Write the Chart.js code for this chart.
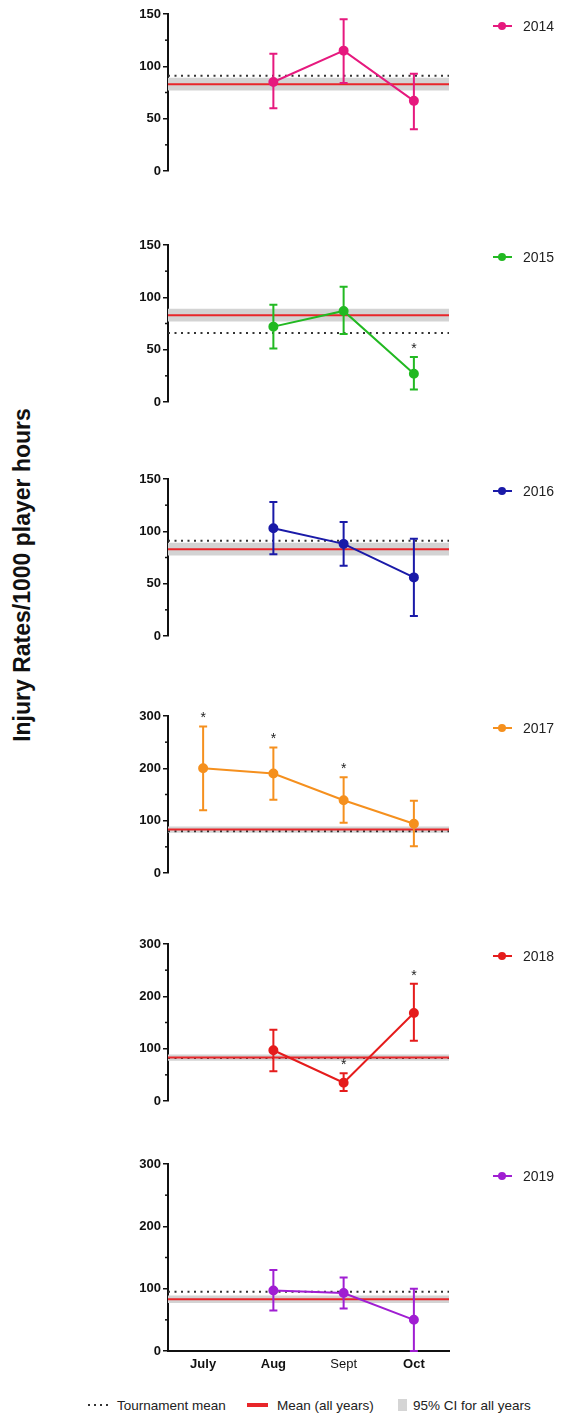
<!DOCTYPE html>
<html><head><meta charset="utf-8">
<style>
body{margin:0;background:#fff;width:561px;height:1417px;position:relative;overflow:hidden;font-family:"Liberation Sans",Arial,sans-serif}
canvas.p{position:absolute;left:0}
.ytitle{position:absolute;left:22px;top:575px;transform:translate(-50%,-50%) rotate(-90deg);font-weight:bold;font-size:23px;white-space:nowrap;color:#111}
.lg{position:absolute;left:493px;height:16px;display:flex;align-items:center;font-size:14px;color:#222}
.lg .ln{position:relative;width:19px;height:2px;margin-right:11px}
.lg .dt{position:absolute;left:5px;top:-3.5px;width:8px;height:8px;border-radius:50%}
.bl{position:absolute;top:1396px;height:18px;display:flex;align-items:center;font-size:13.5px;color:#222}
.dots{display:inline-block;width:24px;height:2px;margin-right:5px;background:repeating-linear-gradient(90deg,#333 0 2px,transparent 2px 6px)}
</style>
<script src="https://cdn.jsdelivr.net/npm/chart.js@4"></script>
</head><body>
<div class="ytitle">Injury Rates/1000 player hours</div>
<script>
// ---- data ----
const months = ['July', 'Aug', 'Sept', 'Oct'];
const years = ['2014', '2015', '2016', '2017', '2018', '2019'];
const yearColors = ['#e6197e', '#22b922', '#1a1aa8', '#f5901e', '#e51c1c', '#a01ed2'];

const rate2014 = [null, 85, 115, 67];
const low2014  = [null, 60, 84, 40];
const high2014 = [null, 112, 145, 93];

const rate2015 = [null, 72, 87, 27];
const low2015  = [null, 51, 65, 12];
const high2015 = [null, 93, 110, 43];

const rate2016 = [null, 103, 88, 56];
const low2016  = [null, 78, 67, 19];
const high2016 = [null, 128, 109, 93];

const rate2017 = [200, 190, 139, 94];
const low2017  = [120, 140, 96, 51];
const high2017 = [280, 240, 183, 138];

const rate2018 = [null, 97, 35, 168];
const low2018  = [null, 57, 19, 115];
const high2018 = [null, 136, 53, 224];

const rate2019 = [null, 97, 93, 50];
const low2019  = [null, 65, 68, 0];
const high2019 = [null, 130, 118, 100];

const signif2015 = [false, false, false, true];
const signif2017 = [true, true, true, false];
const signif2018 = [false, false, true, true];
const noSignif   = [false, false, false, false];

const tournamentMean = [91, 66, 91, 80, 82, 95];
const meanAllYears = 83;
const ciAllYears = [77, 89];
const yAxisMax = [150, 150, 150, 300, 300, 300];
const yLabelStep = [50, 50, 50, 100, 100, 100];

// ---- tables built from the arrays ----
const rates = [rate2014, rate2015, rate2016, rate2017, rate2018, rate2019];
const lows = [low2014, low2015, low2016, low2017, low2018, low2019];
const highs = [high2014, high2015, high2016, high2017, high2018, high2019];
const signifs = [noSignif, signif2015, noSignif, signif2017, signif2018, noSignif];

const errBarPlugin = {
  id: 'errbars',
  afterDatasetsDraw(chart, args, o) {
    const {ctx} = chart; const x = chart.scales.x, y = chart.scales.y;
    ctx.save();
    // minor ticks halfway between labelled ticks
    ctx.strokeStyle = '#111'; ctx.lineWidth = 1.5;
    const ticks = y.ticks;
    for (let k = 0; k < ticks.length - 1; k++) {
      const py = y.getPixelForValue((ticks[k].value + ticks[k + 1].value) / 2);
      ctx.beginPath(); ctx.moveTo(chart.chartArea.left - 3, py); ctx.lineTo(chart.chartArea.left, py); ctx.stroke();
    }
    ctx.strokeStyle = o.color; ctx.lineWidth = 2;
    o.lo.forEach((lo, i) => {
      if (lo == null) return;
      const px = x.getPixelForValue(i);
      const pt = y.getPixelForValue(o.hi[i]);
      const pb = y.getPixelForValue(lo);
      ctx.beginPath();
      ctx.moveTo(px, pt); ctx.lineTo(px, pb);
      ctx.moveTo(px - 4, pt); ctx.lineTo(px + 4, pt);
      ctx.moveTo(px - 4, pb); ctx.lineTo(px + 4, pb);
      ctx.stroke();
      if (o.stars[i]) {
        ctx.fillStyle = '#222';
        ctx.font = '14px "Liberation Sans", Arial';
        ctx.textAlign = 'center'; ctx.textBaseline = 'middle';
        ctx.fillText('*', px, pt - 8);
      }
    });
    ctx.restore();
  }
};

const areaTop = [14, 245, 479, 716, 944, 1164];
const areaH = 187;

years.forEach((yr, i) => {
  const last = i === years.length - 1;
  const cv = document.createElement('canvas');
  cv.className = 'p';
  const H = areaH + 10 + (last ? 30 : 10);
  cv.width = 561; cv.height = H;
  cv.style.top = (areaTop[i] - 10) + 'px';
  document.body.appendChild(cv);

  const pts = [];
  rates[i].forEach((v, k) => { if (v != null) pts.push({x: k, y: v}); });
  const col = yearColors[i];

  new Chart(cv, {
    type: 'line',
    data: {
      datasets: [
        {data: pts, borderColor: col, backgroundColor: col, pointBackgroundColor: col,
         pointBorderColor: col, pointRadius: 4, borderWidth: 2, order: 0, clip: false},
        {data: [{x: -0.5, y: meanAllYears}, {x: 3.5, y: meanAllYears}], borderColor: '#e8262a',
         borderWidth: 2, pointRadius: 0, order: 1},
        {data: [{x: -0.5, y: tournamentMean[i]}, {x: 3.5, y: tournamentMean[i]}], borderColor: '#333',
         borderWidth: 2, borderDash: [2, 4.5], pointRadius: 0, order: 2},
        {data: [{x: -0.5, y: ciAllYears[1]}, {x: 3.5, y: ciAllYears[1]}], borderWidth: 0,
         borderColor: 'rgba(0,0,0,0)', backgroundColor: '#d3d3d3', fill: {value: ciAllYears[0]},
         pointRadius: 0, order: 3}
      ]
    },
    options: {
      responsive: false, animation: false, devicePixelRatio: 1,
      layout: {padding: {top: 10, bottom: last ? 0 : 10, left: 0, right: 112}},
      plugins: {
        legend: {display: false}, tooltip: {enabled: false},
        errbars: {lo: lows[i], hi: highs[i], stars: signifs[i], color: col}
      },
      scales: {
        x: {
          type: 'linear', min: -0.5, max: 3.5, display: last,
          afterBuildTicks: (s) => { s.ticks = months.map((m, k) => ({value: k})); },
          afterFit: (s) => { s.height = 30; },
          border: {display: true, color: '#111', width: 2},
          grid: {display: true, drawOnChartArea: false, drawTicks: false, color: 'rgba(0,0,0,0)'},
          ticks: {
            padding: 6, color: '#111',
            callback: (v) => months[v],
            font: (c) => ({family: '"Liberation Sans", Arial', size: 13,
                           weight: (c.tick && c.tick.value === 2) ? 'normal' : 'bold'})
          }
        },
        y: {
          min: 0, max: yAxisMax[i],
          afterFit: (s) => { s.width = 168; },
          border: {display: true, color: '#111', width: 2},
          grid: {drawOnChartArea: false, drawTicks: true, tickLength: 5, color: '#111', lineWidth: 1.5},
          ticks: {
            stepSize: yLabelStep[i], padding: 2, color: '#111',
            font: {family: '"Liberation Sans", Arial', size: 13, weight: 'bold'}
          }
        }
      }
    },
    plugins: [errBarPlugin]
  });

  const lg = document.createElement('div');
  lg.className = 'lg';
  lg.style.top = (areaTop[i] + 4) + 'px';
  lg.innerHTML = '<div class="ln" style="background:' + col + '"><div class="dt" style="background:' + col + '"></div></div><span>' + yr + '</span>';
  document.body.appendChild(lg);
});
</script>
<div class="bl" style="left:88px"><span class="dots"></span>Tournament mean</div>
<div class="bl" style="left:247px"><span style="display:inline-block;width:21px;height:4px;background:#e8262a;margin-right:9px"></span>Mean (all years)</div>
<div class="bl" style="left:398px"><span style="display:inline-block;width:9px;height:12px;background:#d5d5d5;margin-right:6px"></span>95% CI for all years</div>
</body></html>
